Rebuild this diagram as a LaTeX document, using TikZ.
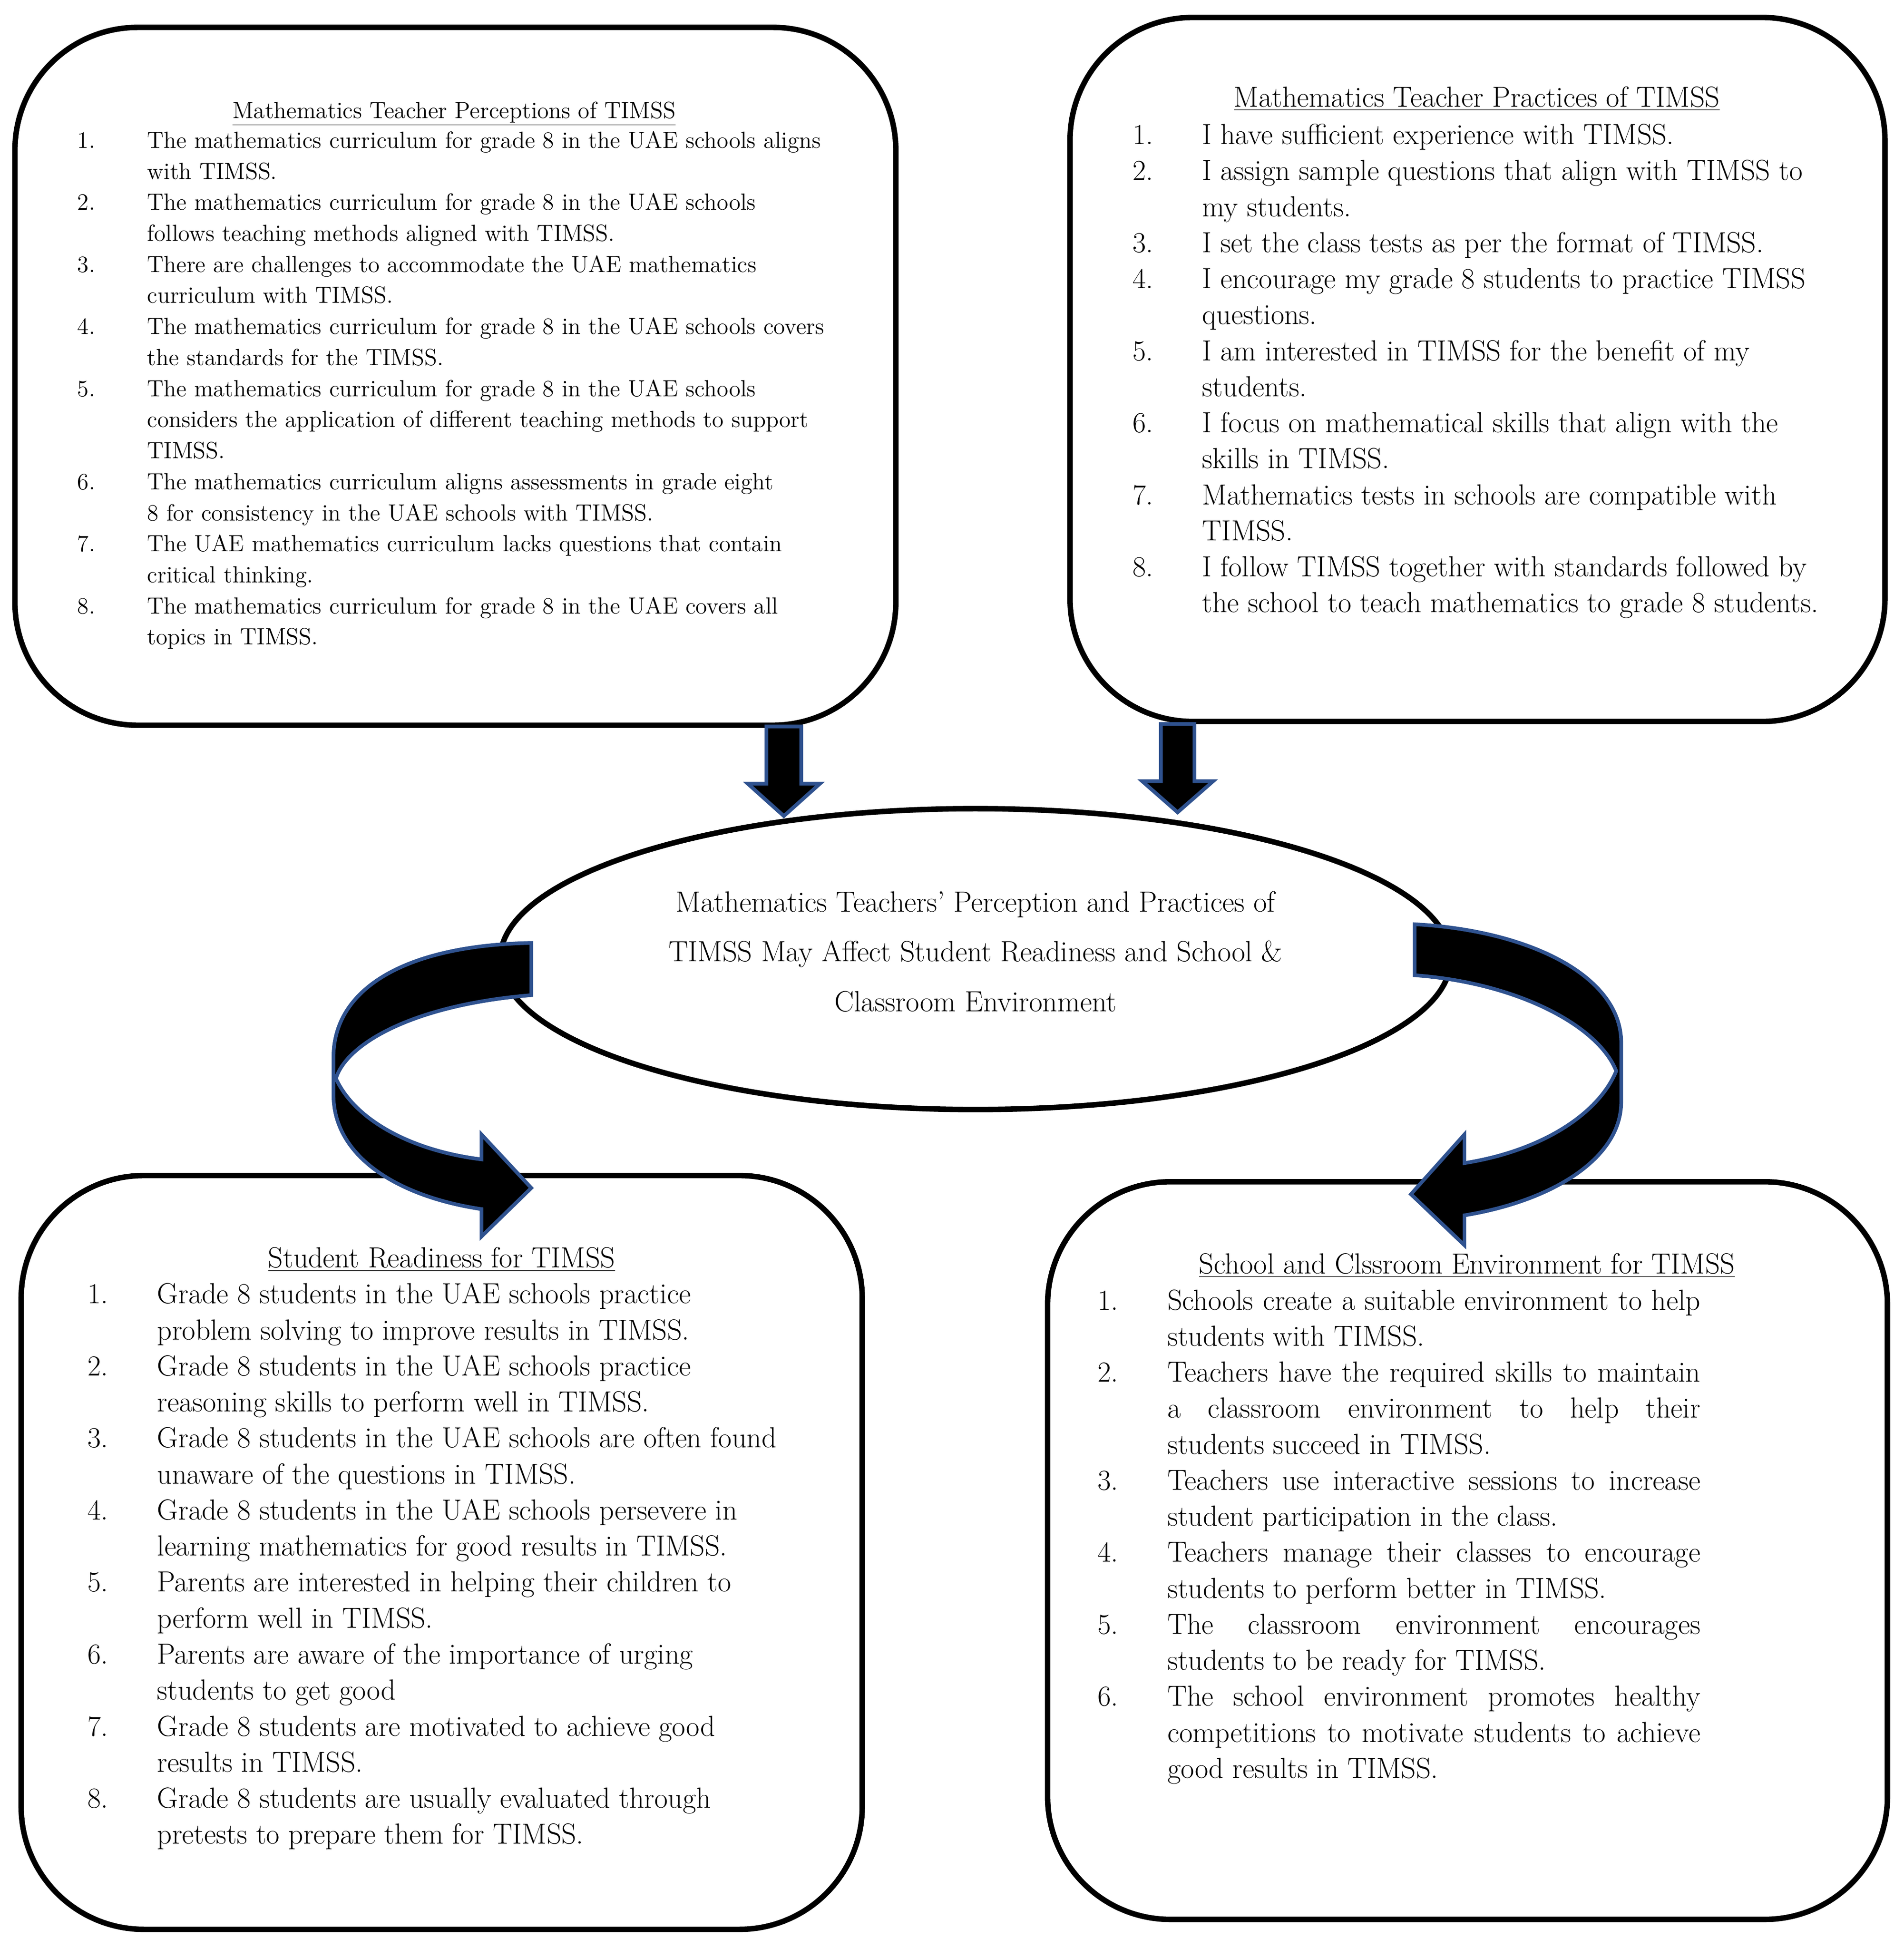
\documentclass[tikz,border=0pt]{standalone}
\usepackage{fontspec}
\usetikzlibrary{shapes.geometric,fit}

\definecolor{arrowblue}{RGB}{47,82,143}
\newcommand{\jline}[1]{\makebox[\linewidth][s]{#1}\newline}

\begin{document}
\begin{tikzpicture}[x=0.02633cm, y=-0.02633cm]
        \tikzstyle{frame}=[draw, line width=3.3pt, rounded corners=2.6cm, inner sep=0pt]
        \tikzstyle{hub}=[ellipse, draw, line width=3.3pt, inner sep=0pt,
            minimum width=20.12cm, minimum height=6.37cm]
        \tikzstyle{heading}=[anchor=base, inner sep=0pt]
        \tikzstyle{items}=[anchor=base west, inner sep=0pt, align=left]
        \tikzstyle{small text}=[font=\fontsize{14.1pt}{18.7pt}\selectfont]
        \tikzstyle{large text}=[font=\fontsize{17.5pt}{21.7pt}\selectfont]
        \tikzstyle{block arrow}=[fill=black, draw=arrowblue, line width=2.2pt, line join=miter]

        \useasboundingbox (0,0) rectangle (1530,1566);

        % Draw the central ellipse
        \node[hub] (mid) at (784,771) {};
        \node[align=center, font=\fontsize{17.6pt}{30pt}\selectfont] (mid-text) at (784,765)
            {Mathematics Teachers’ Perception and Practices of\\
             TIMSS May Affect Student Readiness and School \&\\
             Classroom Environment};

        % Draw the four boxes
        \node[frame, fit={(12,22) (720,583)}] (perc) {};
        \node[frame, fit={(860,14) (1515,580)}] (prac) {};
        \node[frame, fit={(17,945) (693,1551)}] (ready) {};
        \node[frame, fit={(842,950) (1517,1543)}] (env) {};

        % Teacher perceptions
        \node[heading, small text] (perc-title) at (365,95) {\underline{Mathematics Teacher Perceptions of TIMSS}};
        \node[items, small text] (perc-list) at (62,119) {%
            \begin{tabular}[t]{@{}p{30pt}p{16cm}@{}}
            1. & The mathematics curriculum for grade 8 in the UAE schools aligns\newline with TIMSS.\\
            2. & The mathematics curriculum for grade 8 in the UAE schools\newline follows teaching methods aligned with TIMSS.\\
            3. & There are challenges to accommodate the UAE mathematics\newline curriculum with TIMSS.\\
            4. & The mathematics curriculum for grade 8 in the UAE schools covers\newline the standards for the TIMSS.\\
            5. & The mathematics curriculum for grade 8 in the UAE schools\newline considers the application of different teaching methods to support\newline TIMSS.\\
            6. & The mathematics curriculum aligns assessments in grade eight\newline 8 for consistency in the UAE schools with TIMSS.\\
            7. & The UAE mathematics curriculum lacks questions that contain\newline critical thinking.\\
            8. & The mathematics curriculum for grade 8 in the UAE covers all\newline topics in TIMSS.\\
            \end{tabular}};

        % Teacher practices
        \node[heading, large text] (prac-title) at (1187,86) {\underline{Mathematics Teacher Practices of TIMSS}};
        \node[items, large text] (prac-list) at (910,116) {%
            \begin{tabular}[t]{@{}p{30pt}p{16cm}@{}}
            1. & I have sufficient experience with TIMSS.\\
            2. & I assign sample questions that align with TIMSS to\newline my students.\\
            3. & I set the class tests as per the format of TIMSS.\\
            4. & I encourage my grade 8 students to practice TIMSS\newline questions.\\
            5. & I am interested in TIMSS for the benefit of my\newline students.\\
            6. & I focus on mathematical skills that align with the\newline skills in TIMSS.\\
            7. & Mathematics tests in schools are compatible with\newline TIMSS.\\
            8. & I follow TIMSS together with standards followed by\newline the school to teach mathematics to grade 8 students.\\
            \end{tabular}};

        % Student readiness
        \node[heading, large text] (ready-title) at (355,1019) {\underline{Student Readiness for TIMSS}};
        \node[items, large text] (ready-list) at (70,1048) {%
            \begin{tabular}[t]{@{}p{30pt}p{16cm}@{}}
            1. & Grade 8 students in the UAE schools practice\newline problem solving to improve results in TIMSS.\\
            2. & Grade 8 students in the UAE schools practice\newline reasoning skills to perform well in TIMSS.\\
            3. & Grade 8 students in the UAE schools are often found\newline unaware of the questions in TIMSS.\\
            4. & Grade 8 students in the UAE schools persevere in\newline learning mathematics for good results in TIMSS.\\
            5. & Parents are interested in helping their children to\newline perform well in TIMSS.\\
            6. & Parents are aware of the importance of urging\newline students to get good\\
            7. & Grade 8 students are motivated to achieve good\newline results in TIMSS.\\
            8. & Grade 8 students are usually evaluated through\newline pretests to prepare them for TIMSS.\\
            \end{tabular}};

        % School and classroom environment
        \node[heading, large text] (env-title) at (1179,1024) {\underline{School and Clssroom Environment for TIMSS}};
        \node[items, large text] (env-list) at (882,1053) {%
            \begin{tabular}[t]{@{}p{30pt}p{321pt}@{}}
            1. & \jline{Schools create a suitable environment to help}students with TIMSS.\\
            2. & \jline{Teachers have the required skills to maintain}\jline{a classroom environment to help their}students succeed in TIMSS.\\
            3. & \jline{Teachers use interactive sessions to increase}student participation in the class.\\
            4. & \jline{Teachers manage their classes to encourage}students to perform better in TIMSS.\\
            5. & \jline{The classroom environment encourages}students to be ready for TIMSS.\\
            6. & \jline{The school environment promotes healthy}\jline{competitions to motivate students to achieve}good results in TIMSS.\\
            \end{tabular}};

        % Straight arrows into the ellipse
        \coordinate (perc-out) at (630,584);
        \coordinate (prac-out) at (946.5,582);
        \draw[block arrow] (perc-out) ++(-14,0) -- ++(28,0) -- ++(0,46) -- ++(15,0)
            -- ++(-29,26) -- ++(-29,-26) -- ++(15,0) -- cycle;
        \draw[block arrow] (prac-out) ++(-13.5,0) -- ++(27,0) -- ++(0,46) -- ++(15,0)
            -- ++(-28.5,25) -- ++(-28.5,-25) -- ++(15,0) -- cycle;

        % Curved arrows out of the ellipse
        \draw[block arrow] (427,758) .. controls (325,760) and (268,795) .. (268,850) -- (268,880)
            .. controls (268,930) and (320,962) .. (387,972) -- (387,994) -- (427,955) -- (387,912)
            -- (387,932) .. controls (330,925) and (285,900) .. (270,867)
            .. controls (278,840) and (330,808) .. (427,800) -- cycle;
        \draw[block arrow] (1137,743) .. controls (1230,748) and (1303,785) .. (1303,838) -- (1303,886)
            .. controls (1303,930) and (1250,965) .. (1177,977) -- (1177,1001) -- (1134,960) -- (1177,912)
            -- (1177,935) .. controls (1240,925) and (1285,895) .. (1299,861)
            .. controls (1285,825) and (1220,790) .. (1137,784) -- cycle;
\end{tikzpicture}
\end{document}
